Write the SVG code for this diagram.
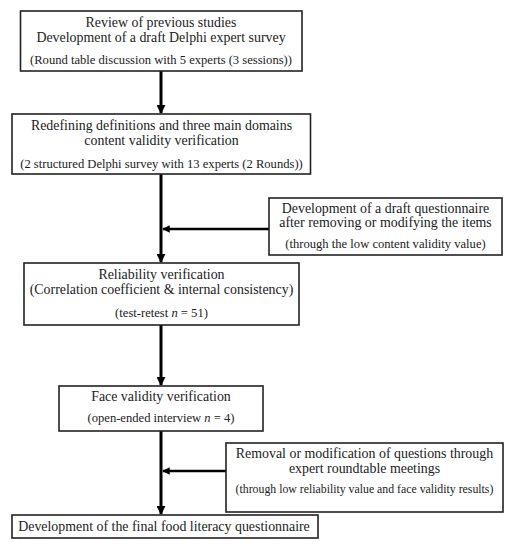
<svg xmlns="http://www.w3.org/2000/svg" width="514" height="550" viewBox="0 0 514 550">
<defs>
<marker id="ah" viewBox="0 0 10 10" refX="9" refY="5" markerWidth="3" markerHeight="3" orient="auto" markerUnits="strokeWidth">
<path d="M0,0 L10,5 L0,10 z" fill="#000"/>
</marker>
<style>
.box{fill:#fff;stroke:#222;stroke-width:1.6}
.t{font-family:"Liberation Serif","Times New Roman",serif;font-size:13.9px;fill:#222;text-anchor:middle}
.s{font-family:"Liberation Serif","Times New Roman",serif;font-size:12.6px;fill:#222;text-anchor:middle}
.c{stroke:#000;stroke-width:3;fill:none}
.h{stroke:#000;stroke-width:2.5;fill:none}
</style>
</defs>
<rect width="514" height="550" fill="#fff"/>
<g id="connectors">
<line class="c" x1="161" y1="71" x2="161" y2="113" marker-end="url(#ah)"/>
<line class="c" x1="161" y1="174" x2="161" y2="262" marker-end="url(#ah)"/>
<line class="c" x1="161" y1="325" x2="161" y2="385" marker-end="url(#ah)"/>
<line class="c" x1="161" y1="431" x2="161" y2="514" marker-end="url(#ah)"/>
<line class="h" x1="269" y1="229" x2="163" y2="229" marker-end="url(#ah)"/>
<line class="h" x1="226" y1="471" x2="163" y2="471" marker-end="url(#ah)"/>
</g>
<g id="n1">
<rect class="box" x="20.5" y="11" width="281.5" height="60"/>
<text class="t" x="161" y="27">Review of previous studies</text>
<text class="t" x="161" y="42">Development of a draft Delphi expert survey</text>
<text class="s" x="161" y="63.5">(Round table discussion with 5 experts (3 sessions))</text>
</g>
<g id="n2">
<rect class="box" x="12" y="114" width="298.5" height="60"/>
<text class="t" x="161.5" y="130">Redefining definitions and three main domains</text>
<text class="t" x="161.5" y="145">content validity verification</text>
<text class="s" x="161.5" y="168">(2 structured Delphi survey with 13 experts (2 Rounds))</text>
</g>
<g id="n3">
<rect class="box" x="269" y="198" width="233" height="57"/>
<text class="t" x="385.5" y="212.5">Development of a draft questionnaire</text>
<text class="t" x="385.5" y="226.5">after removing or modifying the items</text>
<text class="s" x="385.5" y="247.5">(through the low content validity value)</text>
</g>
<g id="n4">
<rect class="box" x="24" y="263" width="275" height="62"/>
<text class="t" x="161.5" y="279">Reliability verification</text>
<text class="t" x="161.5" y="294">(Correlation coefficient &amp; internal consistency)</text>
<text class="s" x="161.5" y="316.5">(test-retest <tspan font-style="italic">n</tspan> = 51)</text>
</g>
<g id="n5">
<rect class="box" x="59" y="386" width="204" height="45"/>
<text class="t" x="161" y="401">Face validity verification</text>
<text class="s" x="161" y="421.5">(open-ended interview <tspan font-style="italic">n</tspan> = 4)</text>
</g>
<g id="n6">
<rect class="box" x="226" y="443" width="277" height="69"/>
<text class="t" x="364.5" y="458">Removal or modification of questions through</text>
<text class="t" x="364.5" y="473">expert roundtable meetings</text>
<text class="s" x="364.5" y="493" style="font-size:11.8px">(through low reliability value and face validity results)</text>
</g>
<g id="n7">
<rect class="box" x="12" y="515" width="306" height="23"/>
<text class="t" x="164" y="531">Development of the final food literacy questionnaire</text>
</g>
</svg>
